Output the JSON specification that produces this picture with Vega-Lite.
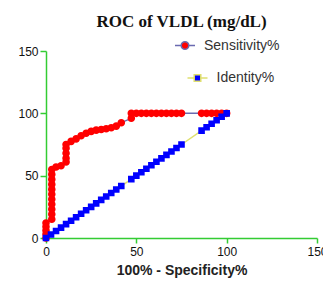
{
  "$schema": "https://vega.github.io/schema/vega-lite/v6.json",
  "autosize": {"type": "none"},
  "padding": {"left": 46, "top": 51, "right": 6, "bottom": 47},
  "width": 271,
  "height": 187,
  "title": {"text": "ROC of VLDL (mg/dL)", "font": "Liberation Serif", "fontSize": 17, "fontWeight": "bold", "color": "#111111", "anchor": "middle", "baseline": "alphabetic", "offset": 11, "dy": 20},
  "data": {"values": [
    {"s": "Sensitivity%", "x": 0, "y": 0},
    {"s": "Sensitivity%", "x": 0, "y": 3},
    {"s": "Sensitivity%", "x": 0, "y": 6},
    {"s": "Sensitivity%", "x": 0, "y": 9},
    {"s": "Sensitivity%", "x": 0, "y": 12},
    {"s": "Sensitivity%", "x": 3.2, "y": 15},
    {"s": "Sensitivity%", "x": 3.2, "y": 19},
    {"s": "Sensitivity%", "x": 3.2, "y": 23},
    {"s": "Sensitivity%", "x": 3.2, "y": 27},
    {"s": "Sensitivity%", "x": 3.2, "y": 31},
    {"s": "Sensitivity%", "x": 3.2, "y": 35},
    {"s": "Sensitivity%", "x": 3.2, "y": 39},
    {"s": "Sensitivity%", "x": 3.2, "y": 43},
    {"s": "Sensitivity%", "x": 3.2, "y": 47},
    {"s": "Sensitivity%", "x": 3.2, "y": 51},
    {"s": "Sensitivity%", "x": 3.2, "y": 55},
    {"s": "Sensitivity%", "x": 5.56, "y": 57},
    {"s": "Sensitivity%", "x": 8.33, "y": 58},
    {"s": "Sensitivity%", "x": 11.11, "y": 61},
    {"s": "Sensitivity%", "x": 11.11, "y": 64},
    {"s": "Sensitivity%", "x": 11.11, "y": 68},
    {"s": "Sensitivity%", "x": 11.11, "y": 72},
    {"s": "Sensitivity%", "x": 11.11, "y": 75},
    {"s": "Sensitivity%", "x": 13.89, "y": 77.5},
    {"s": "Sensitivity%", "x": 16.67, "y": 79.5},
    {"s": "Sensitivity%", "x": 19.44, "y": 82},
    {"s": "Sensitivity%", "x": 22.22, "y": 84},
    {"s": "Sensitivity%", "x": 25, "y": 85.5},
    {"s": "Sensitivity%", "x": 27.78, "y": 86.5},
    {"s": "Sensitivity%", "x": 30.56, "y": 87},
    {"s": "Sensitivity%", "x": 33.33, "y": 87.6},
    {"s": "Sensitivity%", "x": 36.11, "y": 88.4},
    {"s": "Sensitivity%", "x": 38.89, "y": 89.7},
    {"s": "Sensitivity%", "x": 41.67, "y": 92.5},
    {"s": "Sensitivity%", "x": 47.22, "y": 96},
    {"s": "Sensitivity%", "x": 47.22, "y": 100},
    {"s": "Sensitivity%", "x": 50, "y": 100},
    {"s": "Sensitivity%", "x": 52.78, "y": 100},
    {"s": "Sensitivity%", "x": 55.56, "y": 100},
    {"s": "Sensitivity%", "x": 58.33, "y": 100},
    {"s": "Sensitivity%", "x": 61.11, "y": 100},
    {"s": "Sensitivity%", "x": 63.89, "y": 100},
    {"s": "Sensitivity%", "x": 66.67, "y": 100},
    {"s": "Sensitivity%", "x": 69.44, "y": 100},
    {"s": "Sensitivity%", "x": 72.22, "y": 100},
    {"s": "Sensitivity%", "x": 75, "y": 100},
    {"s": "Sensitivity%", "x": 86.11, "y": 100},
    {"s": "Sensitivity%", "x": 88.89, "y": 100},
    {"s": "Sensitivity%", "x": 91.67, "y": 100},
    {"s": "Sensitivity%", "x": 94.44, "y": 100},
    {"s": "Sensitivity%", "x": 97.22, "y": 100},
    {"s": "Sensitivity%", "x": 100, "y": 100},
    {"s": "Identity%", "x": 0, "y": 0},
    {"s": "Identity%", "x": 2.78, "y": 2.78},
    {"s": "Identity%", "x": 5.56, "y": 5.56},
    {"s": "Identity%", "x": 8.33, "y": 8.33},
    {"s": "Identity%", "x": 11.11, "y": 11.11},
    {"s": "Identity%", "x": 13.89, "y": 13.89},
    {"s": "Identity%", "x": 16.67, "y": 16.67},
    {"s": "Identity%", "x": 19.44, "y": 19.44},
    {"s": "Identity%", "x": 22.22, "y": 22.22},
    {"s": "Identity%", "x": 25, "y": 25},
    {"s": "Identity%", "x": 27.78, "y": 27.78},
    {"s": "Identity%", "x": 30.56, "y": 30.56},
    {"s": "Identity%", "x": 33.33, "y": 33.33},
    {"s": "Identity%", "x": 36.11, "y": 36.11},
    {"s": "Identity%", "x": 38.89, "y": 38.89},
    {"s": "Identity%", "x": 41.67, "y": 41.67},
    {"s": "Identity%", "x": 47.22, "y": 47.22},
    {"s": "Identity%", "x": 50, "y": 50},
    {"s": "Identity%", "x": 52.78, "y": 52.78},
    {"s": "Identity%", "x": 55.56, "y": 55.56},
    {"s": "Identity%", "x": 58.33, "y": 58.33},
    {"s": "Identity%", "x": 61.11, "y": 61.11},
    {"s": "Identity%", "x": 63.89, "y": 63.89},
    {"s": "Identity%", "x": 66.67, "y": 66.67},
    {"s": "Identity%", "x": 69.44, "y": 69.44},
    {"s": "Identity%", "x": 72.22, "y": 72.22},
    {"s": "Identity%", "x": 75, "y": 75},
    {"s": "Identity%", "x": 86.11, "y": 86.11},
    {"s": "Identity%", "x": 88.89, "y": 88.89},
    {"s": "Identity%", "x": 91.67, "y": 91.67},
    {"s": "Identity%", "x": 94.44, "y": 94.44},
    {"s": "Identity%", "x": 97.22, "y": 97.22},
    {"s": "Identity%", "x": 100, "y": 100}
  ]},
  "encoding": {
    "x": {"field": "x", "type": "quantitative", "scale": {"domain": [0, 150], "nice": false},
      "axis": {"values": [0, 50, 100, 150], "title": "100% - Specificity%", "labelPadding": 3, "titlePadding": 6, "labelFlush": false}},
    "y": {"field": "y", "type": "quantitative", "scale": {"domain": [0, 150], "nice": false},
      "axis": {"values": [0, 50, 100, 150], "title": null, "tickSize": 6, "labelPadding": 2}}
  },
  "layer": [
    {
      "mark": {"type": "line", "strokeWidth": 1.5},
      "encoding": {
        "stroke": {"field": "s", "type": "nominal",
          "scale": {"range": ["#e0e070", "#6a6ab0"]},
          "legend": {"values": ["Identity%"], "orient": "none", "legendX": 140.5, "legendY": 16, "title": null, "padding": 0,
            "symbolSize": 400, "labelOffset": 8, "labelFontSize": 14, "labelFont": "Liberation Sans", "labelColor": "#333333",
            "encode": {"symbols": {"update": {
              "shape": {"value": "M-1,0H-0.33M-0.33,-0.33H0.33V0.33H-0.33ZM0.33,0H1"},
              "fill": {"value": "#0000ff"}, "fillOpacity": {"value": 1},
              "stroke": {"value": "#e0e070"}, "strokeWidth": {"value": 1.5}, "opacity": {"value": 1}}}}}},
        "order": [{"field": "x", "type": "quantitative"}, {"field": "y", "type": "quantitative"}]
      }
    },
    {
      "mark": {"type": "point", "filled": true, "opacity": 1, "size": 400},
      "encoding": {
        "fill": {"field": "s", "type": "nominal",
          "scale": {"domain": ["Sensitivity%", "Identity%"], "range": ["#ff0000", "#0000ff"]}, "legend": null},
        "shape": {"field": "s", "type": "nominal",
          "scale": {"domain": ["Sensitivity%", "Identity%"], "range": [
            "M-1,0H-0.38M0.38,0C0.38,0.21,0.21,0.38,0,0.38C-0.21,0.38,-0.38,0.21,-0.38,0C-0.38,-0.21,-0.21,-0.38,0,-0.38C0.21,-0.38,0.38,-0.21,0.38,0ZM0.38,0H1",
            "M-1,0H-0.33M-0.33,-0.33H0.33V0.33H-0.33ZM0.33,0H1"]},
          "legend": {"values": ["Sensitivity%"], "orient": "none", "legendX": 128, "legendY": -16.5, "title": null, "padding": 0,
            "symbolSize": 400, "labelOffset": 8, "labelFontSize": 14, "labelFont": "Liberation Sans", "labelColor": "#333333",
            "symbolFillColor": "#ff0000", "symbolStrokeColor": "#6a6ab0", "symbolStrokeWidth": 1.5, "symbolOpacity": 1}}
      }
    }
  ],
  "config": {
    "view": {"stroke": null},
    "axis": {"domainColor": "#33cc33", "domainWidth": 1.5, "tickColor": "#33cc33", "tickWidth": 1.5, "tickSize": 5,
      "labelFont": "Liberation Sans", "labelFontSize": 12, "labelColor": "#111111", "grid": false,
      "titleFont": "Liberation Sans", "titleFontWeight": "bold", "titleFontSize": 14, "titleColor": "#222222"}
  }
}
